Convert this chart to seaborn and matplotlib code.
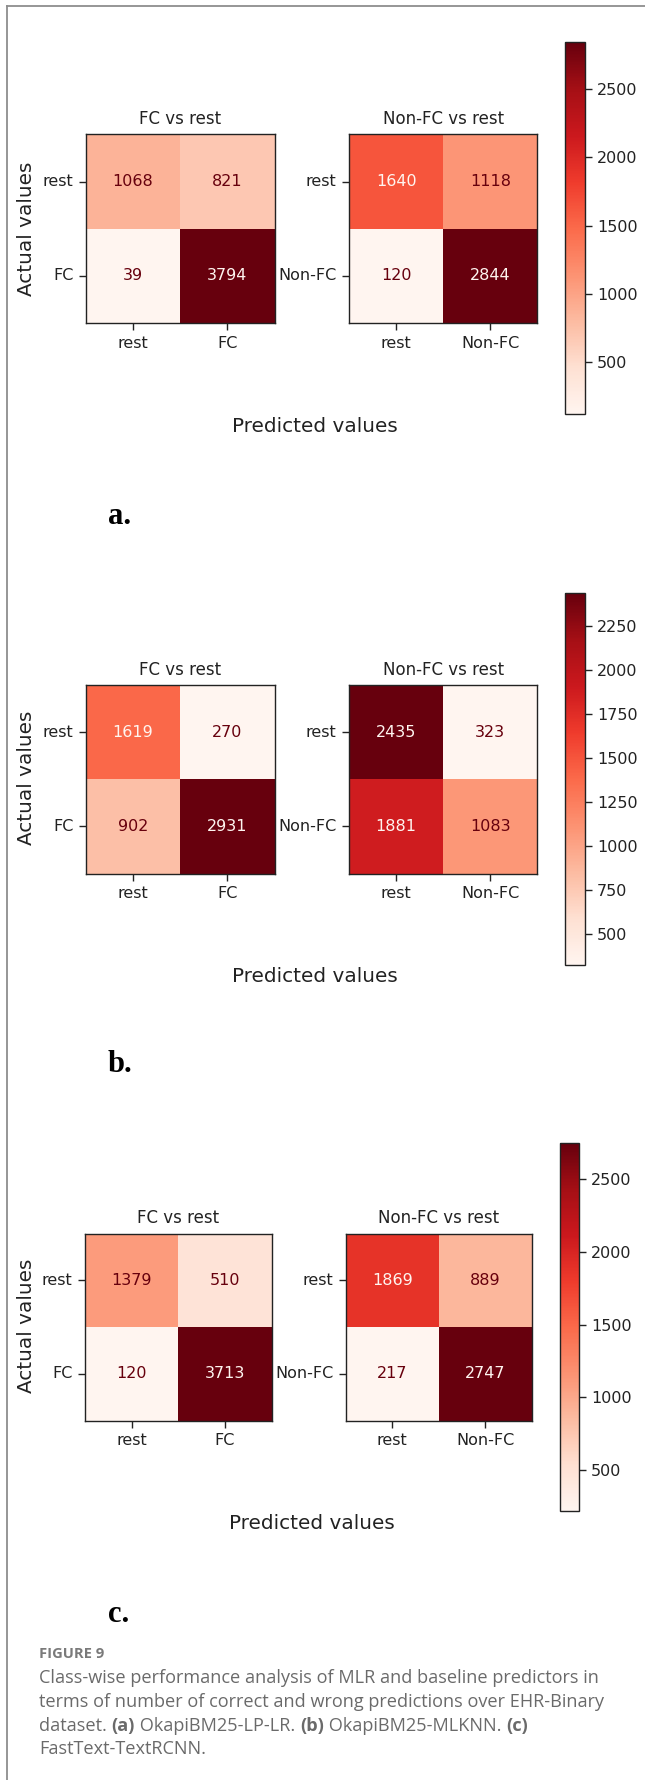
import numpy as np
import pandas as pd
import seaborn as sns
import matplotlib
matplotlib.use("Agg")
import matplotlib.pyplot as plt
from matplotlib.lines import Line2D

# ---- data ---------------------------------------------------------------
labels_fc = ["rest", "FC"]
labels_nfc = ["rest", "Non-FC"]

a_fc = [[1068, 821], [39, 3794]]
a_nfc = [[1640, 1118], [120, 2844]]
b_fc = [[1619, 270], [902, 2931]]
b_nfc = [[2435, 323], [1881, 1083]]
c_fc = [[1379, 510], [120, 3713]]
c_nfc = [[1869, 889], [217, 2747]]

cbar_ticks_a = [500, 1000, 1500, 2000, 2500]
cbar_ticks_b = [500, 750, 1000, 1250, 1500, 1750, 2000, 2250]
cbar_ticks_c = [500, 1000, 1500, 2000, 2500]

panel_letters = ["a.", "b.", "c."]
title_fc = "FC vs rest"
title_nfc = "Non-FC vs rest"
xlabel = "Predicted values"
ylabel = "Actual values"

caption_head = "FIGURE 9"
caption_lines = [
    "Class-wise performance analysis of MLR and baseline predictors in",
    "terms of number of correct and wrong predictions over EHR-Binary",
]
caption_line3 = [("dataset. ", "normal"), ("(a)", "bold"), (" OkapiBM25-LP-LR. ", "normal"),
                 ("(b)", "bold"), (" OkapiBM25-MLKNN. ", "normal"), ("(c)", "bold")]
caption_line4 = "FastText-TextRCNN."

# ---- layout helpers -----------------------------------------------------
W, H = 645, 1780
fig = plt.figure(figsize=(W / 100, H / 100), dpi=100)
fig.patch.set_facecolor("white")


def rect(x0, y0, x1, y1):
    return [x0 / W, 1 - y1 / H, (x1 - x0) / W, (y1 - y0) / H]


def fx(x):
    return x / W


def fy(y):
    return 1 - y / H


cmap = plt.get_cmap("Reds")
TICK_FS = 11.5
LABEL_FS = 14.4


def draw_matrix(ax, values, labels, title):
    df = pd.DataFrame(values, index=labels, columns=labels)
    arr = np.asarray(values)
    sns.heatmap(df, ax=ax, cmap="Reds", cbar=False, annot=True, fmt="d",
                vmin=arr.min(), vmax=arr.max(),
                annot_kws={"fontsize": TICK_FS})
    thresh = (arr.max() + arr.min()) / 2.0
    for txt, v in zip(ax.texts, arr.ravel()):
        txt.set_color(cmap(0.0) if v > thresh else cmap(1.0))
    for sp in ax.spines.values():
        sp.set_visible(True)
        sp.set_linewidth(1.0)
        sp.set_color("#222222")
    ax.tick_params(axis="both", length=5, width=1, labelsize=TICK_FS,
                   colors="#222222", pad=4)
    ax.set_yticklabels(labels, rotation=0)
    ax.set_xticklabels(labels, rotation=0)
    ax.set_xlabel("")
    ax.set_ylabel("")
    ax.set_title(title, fontsize=12, pad=7.4, color="#222222")
    return ax.collections[0]


panels = [
    dict(fc=a_fc, nfc=a_nfc, ticks=cbar_ticks_a, top=134.3, bot=323.2,
         lx=(86, 274.5), rx=(349, 537.4), cb=(565, 42.1, 585, 414.3),
         xl=(315, 426.8), yl=(27, 228.6), letter=517),
    dict(fc=b_fc, nfc=b_nfc, ticks=cbar_ticks_b, top=685.0, bot=873.6,
         lx=(86, 274.5), rx=(349, 537.4), cb=(565, 592.9, 585, 965.4),
         xl=(315, 977.0), yl=(27, 777.9), letter=1065),
    dict(fc=c_fc, nfc=c_nfc, ticks=cbar_ticks_c, top=1233.6, bot=1420.5,
         lx=(85, 271.6), rx=(345.7, 532), cb=(560, 1143, 579, 1511.4),
         xl=(311.5, 1523.2), yl=(26.7, 1326.0), letter=1614.5),
]

for p, letter in zip(panels, panel_letters):
    ax_l = fig.add_axes(rect(p["lx"][0], p["top"], p["lx"][1], p["bot"]))
    ax_r = fig.add_axes(rect(p["rx"][0], p["top"], p["rx"][1], p["bot"]))
    draw_matrix(ax_l, p["fc"], labels_fc, title_fc)
    mappable = draw_matrix(ax_r, p["nfc"], labels_nfc, title_nfc)

    cax = fig.add_axes(rect(*p["cb"]))
    cb = fig.colorbar(mappable, cax=cax)
    cb.set_ticks(p["ticks"])
    cb.ax.tick_params(labelsize=TICK_FS, length=5, width=1, colors="#222222")
    cb.outline.set_linewidth(1.0)
    cb.outline.set_edgecolor("#222222")

    fig.text(fx(p["xl"][0]), fy(p["xl"][1]), xlabel, fontsize=LABEL_FS,
             ha="center", va="center", color="#222222")
    fig.text(fx(p["yl"][0]), fy(p["yl"][1]), ylabel, fontsize=LABEL_FS,
             ha="center", va="center", rotation=90, color="#222222")
    fig.text(fx(108), fy(p["letter"]), letter, fontsize=22,
             family="Liberation Serif", weight="bold", ha="left", va="center",
             color="black")

# ---- caption ------------------------------------------------------------
CAP_COLOR = "#6a6a6a"
CAP_FS = 13.1
cap_family = "Open Sans"
fig.text(fx(39), fy(1654.5), caption_head, fontsize=10.6, family=cap_family,
         weight="bold", color="#7a7a7a", ha="left", va="center")
for line, yc in zip(caption_lines, [1677.7, 1701.6]):
    fig.text(fx(39), fy(yc), line, fontsize=CAP_FS, family=cap_family,
             color=CAP_COLOR, ha="left", va="center")

renderer = fig.canvas.get_renderer()
xpos = 39.0
for piece, wt in caption_line3:
    t = fig.text(fx(xpos), fy(1726), piece, fontsize=CAP_FS, family=cap_family,
                 weight=wt, color=CAP_COLOR, ha="left", va="center")
    bb = t.get_window_extent(renderer=renderer)
    xpos += bb.width
fig.text(fx(39), fy(1749.2), caption_line4, fontsize=CAP_FS, family=cap_family,
         color=CAP_COLOR, ha="left", va="center")

# ---- page frame (top and left rules) -----------------------------------
fig.add_artist(Line2D([fx(6.6), 1.0], [fy(5.7), fy(5.7)], transform=fig.transFigure,
                      color="#8e8e8e", linewidth=1.3))
fig.add_artist(Line2D([fx(6.6), fx(6.6)], [fy(5.7), 0.0], transform=fig.transFigure,
                      color="#8e8e8e", linewidth=1.3))

fig.savefig("out.png", dpi=100, facecolor="white")
